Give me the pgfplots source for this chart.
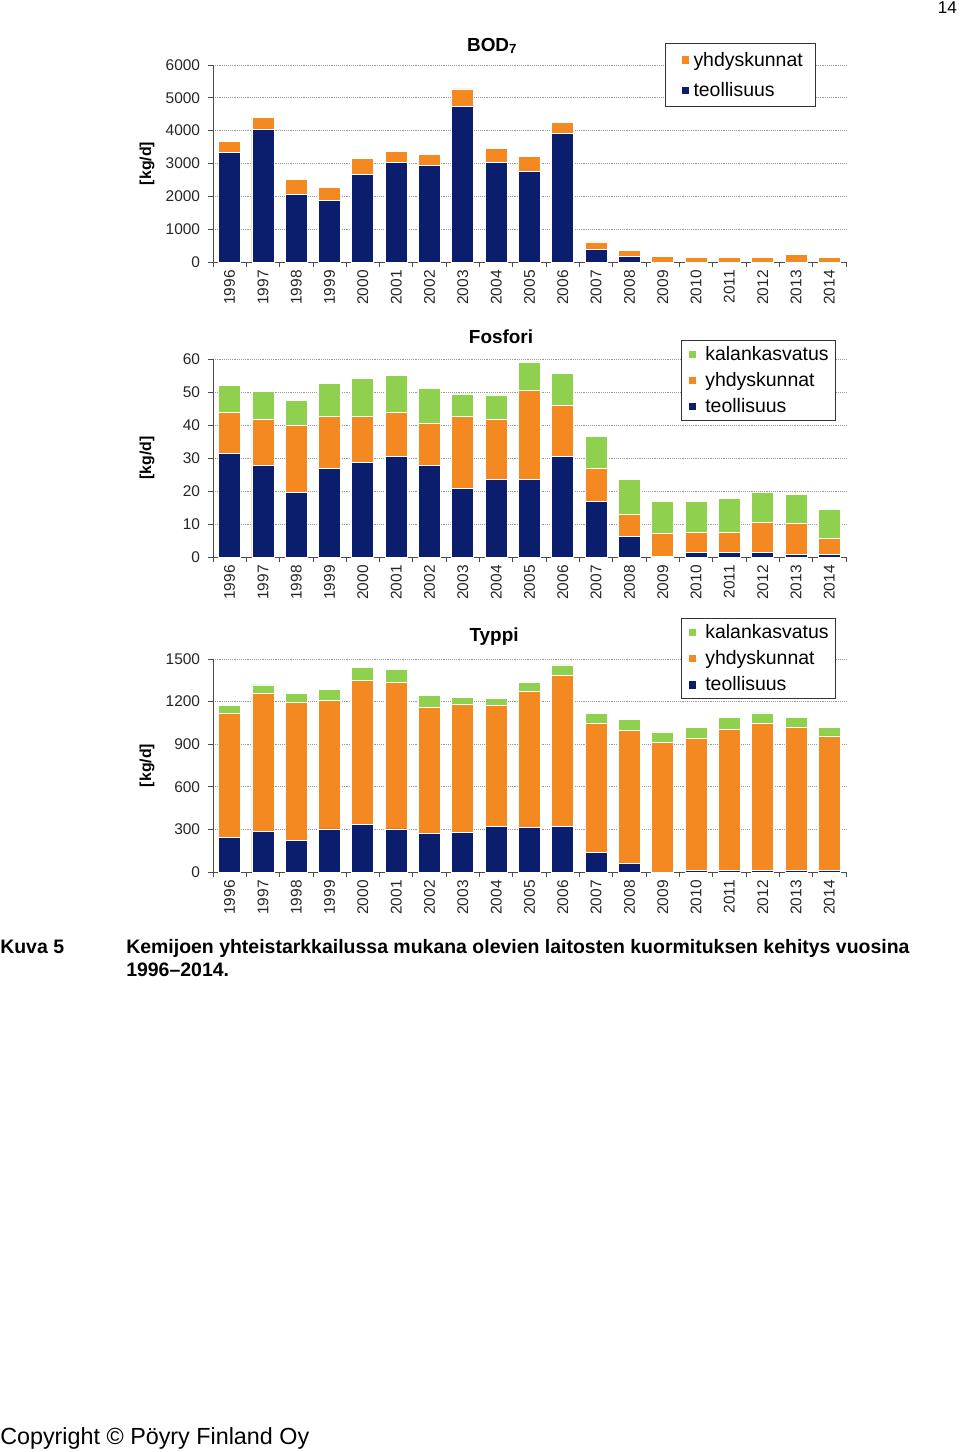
\documentclass[border=0pt]{standalone}
\usepackage{pgfplots}
\usepackage{pgfplotstable}
\pgfplotsset{compat=1.18}
\usepackage{fontspec}
\setmainfont{Liberation Sans}
\definecolor{navy}{RGB}{11,30,110}
\definecolor{orng}{RGB}{245,137,33}
\definecolor{grn}{RGB}{143,208,78}

\pgfplotstableread{
x teol yh
0 3350 310
1 4040 370
2 2070 430
3 1870 400
4 2670 490
5 3040 320
6 2950 320
7 4750 520
8 3040 430
9 2750 460
10 3920 340
11 390 220
12 180 170
13 0 180
14 0 140
15 0 140
16 0 140
17 0 230
18 0 140
}\bod

\pgfplotstableread{
x teol yh kal
0 31.4 12.5 8.0
1 27.6 14.2 8.4
2 19.6 20.3 7.5
3 26.7 16.0 9.8
4 28.7 13.9 11.5
5 30.6 13.1 11.4
6 27.6 13.0 10.5
7 20.7 22.0 6.7
8 23.5 18.3 7.3
9 23.5 27.0 8.6
10 30.6 15.2 9.9
11 16.9 9.9 9.8
12 6.2 6.7 10.5
13 0.3 6.8 9.6
14 1.4 6.0 9.5
15 1.4 6.0 10.3
16 1.4 9.0 9.3
17 0.8 9.5 8.6
18 0.8 4.9 8.6
}\fosfori

\pgfplotstableread{
x teol yh kal
0 244 871 59
1 286 968 63
2 225 972 57
3 303 908 75
4 338 1009 90
5 303 1035 85
6 270 890 84
7 277 906 49
8 324 852 49
9 312 958 63
10 324 1061 73
11 138 907 68
12 59 939 77
13 0 911 75
14 8 931 77
15 8 997 82
16 8 1041 71
17 8 1008 71
18 8 950 63
}\typpi

\pgfplotsset{
  mystyle/.style={
    scale only axis, width=474.75pt,
    xmin=-0.5, xmax=18.5, ymin=0,
    ybar stacked, bar width=16.5pt,
    axis x line*=bottom, axis y line*=left,
    axis line style={black!70, line width=0.6pt},
    ymajorgrids, grid style={densely dotted, black!40, line width=0.6pt},
    xtick={0,...,18},
    xticklabels={1996,1997,1998,1999,2000,2001,2002,2003,2004,2005,2006,2007,2008,2009,2010,2011,2012,2013,2014},
    major x tick style={draw=none},
    minor xtick={-0.5,0.5,...,18.5},
    tick align=outside, major tick length=4pt, minor tick length=4pt,
    tick style={black!70, line width=0.6pt},
    x tick label style={rotate=90, anchor=east, inner sep=2pt, font=\fontsize{11.6}{13}\selectfont, text=black!85},
    y tick label style={inner sep=0pt, xshift=-5.5pt, font=\fontsize{11.6}{13}\selectfont, text=black!85},
    /pgf/number format/assume math mode=true,
    /pgf/number format/1000 sep={},
    ylabel={[kg/d]},
    every axis y label/.style={at={(axis description cs:-0.104,0.5)}, rotate=90, anchor=center, font=\bfseries\fontsize{11.9}{13}\selectfont},
    every axis plot/.append style={draw=white, line width=0.7pt},
    legend image code/.code={\path (0pt,0pt) -- (10.9pt,0pt); \fill[##1,draw=none] (4pt,-2.7pt) rectangle (9.4pt,2.7pt);},
    reverse legend,
    legend cell align=left,
    legend style={draw=black!80, line width=0.6pt, fill=white, font=\fontsize{14.6}{16}\selectfont,
      inner xsep=8pt, inner ysep=4.5pt, row sep=4.5pt, nodes={inner sep=1.5pt}, anchor=north west},
    title style={anchor=base, font=\bfseries\fontsize{14.2}{16}\selectfont},
  },
  threeleg/.style={
    legend image code/.code={\path (0pt,0pt) -- (12.15pt,0pt); \fill[##1,draw=none] (1.5pt,-2.8pt) rectangle (7.2pt,2.8pt);},
    legend style={inner xsep=3.75pt, inner ysep=3pt},
  }
}

\begin{document}
\begin{tikzpicture}
\path[fill=white] (0pt,0pt) rectangle (720pt,-1089pt);

% BOD
\begin{axis}[mystyle, at={(159.75pt,-196.5pt)}, anchor=south west, height=147.75pt,
  ymax=6000, ytick={0,1000,...,6000},
  title={BOD\textsubscript{7}}, title style={at={(axis description cs:0.441,1)}, yshift=4.5pt},
  legend style={at={(0.714,1.112)}, row sep=7.5pt, inner ysep=5pt}]
\addplot[fill=navy] table[x=x,y=teol]{\bod};
\addplot[fill=orng] table[x=x,y=yh]{\bod};
\legend{teollisuus,yhdyskunnat}
\end{axis}

% Fosfori
\begin{axis}[mystyle, threeleg, at={(159.75pt,-417.75pt)}, anchor=south west, height=148.5pt,
  ymax=60, ytick={0,10,...,60},
  title={Fosfori}, title style={at={(axis description cs:0.455,1)}, yshift=6pt},
  legend style={at={(0.739,1.096)}}]
\addplot[fill=navy] table[x=x,y=teol]{\fosfori};
\addplot[fill=orng] table[x=x,y=yh]{\fosfori};
\addplot[fill=grn] table[x=x,y=kal]{\fosfori};
\legend{teollisuus,yhdyskunnat,kalankasvatus}
\end{axis}

% Typpi
\begin{axis}[mystyle, threeleg, at={(159.75pt,-654pt)}, anchor=south west, height=159.75pt,
  ymax=1500, ytick={0,300,...,1500},
  title={Typpi}, title style={at={(axis description cs:0.444,1)}, yshift=7.5pt},
  legend style={at={(0.739,1.192)}}]
\addplot[fill=navy] table[x=x,y=teol]{\typpi};
\addplot[fill=orng] table[x=x,y=yh]{\typpi};
\addplot[fill=grn] table[x=x,y=kal]{\typpi};
\legend{teollisuus,yhdyskunnat,kalankasvatus}
\end{axis}

\node[anchor=base east, inner sep=0pt, font=\fontsize{12.8}{14}\selectfont] at (717.75pt,-10.5pt) {14};
\node[anchor=base west, inner sep=0pt, font=\bfseries\fontsize{14.6}{17}\selectfont] at (0pt,-714.75pt) {Kuva 5};
\node[anchor=base west, inner sep=0pt, font=\bfseries\fontsize{14.6}{17}\selectfont] at (94.5pt,-714.75pt) {Kemijoen yhteistarkkailussa mukana olevien laitosten kuormituksen kehitys vuosina};
\node[anchor=base west, inner sep=0pt, font=\bfseries\fontsize{14.6}{17}\selectfont] at (94.5pt,-732pt) {1996–2014.};
\node[anchor=base west, inner sep=0pt, font=\fontsize{17.5}{20}\selectfont] at (0pt,-1083pt) {Copyright © Pöyry Finland Oy};
\end{tikzpicture}
\end{document}
